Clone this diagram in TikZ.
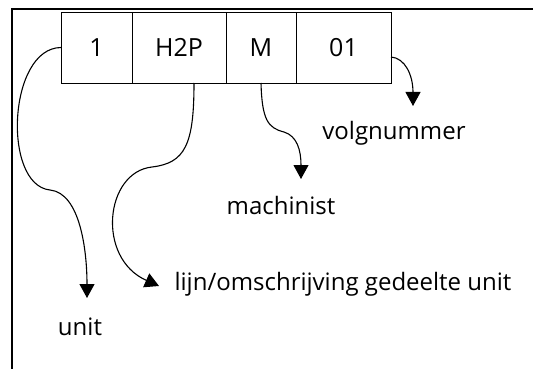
\documentclass[tikz,border=0pt]{standalone}
\usepackage{fontspec}
\setmainfont{Open Sans}
\usetikzlibrary{positioning,arrows.meta}
\begin{document}
\begin{tikzpicture}[
      x=1pt, y=-1pt,
      veld/.style={
        draw,
        line width=0.8pt,
        inner sep=0pt,
        outer sep=0pt,
        minimum height=71pt,
        font=\fontsize{25}{30}\selectfont
      },
      uitleg/.style={
        inner sep=0pt,
        font=\fontsize{24}{30}\selectfont
      },
      pijl/.style={-{Triangle[length=14pt,width=15pt]}, line width=1.1pt}
    ]
    \useasboundingbox (0,0) rectangle (533,369);
    % frame
    \draw[line width=1.2pt] (533,9) -- (12,9) -- (12,369);
    % code fields
    \node[veld, minimum width=71pt] (unit) at (96.5,47.5) {1};
    \node[veld, minimum width=94pt, right=0pt of unit] (lijn) {H2P};
    \node[veld, minimum width=70pt, right=0pt of lijn] (mach) {M};
    \node[veld, minimum width=95pt, right=0pt of mach] (volg) {01};
    % labels
    \node[uitleg] (tvolg) at (394,133) {volgnummer};
    \node[uitleg] (tmach) at (281,205) {machinist};
    \node[uitleg] (tlijn) at (343,284) {lijn/omschrijving gedeelte unit};
    \node[uitleg] (tunit) at (80,327) {unit};
    \coordinate (pvolg) at (413,106);
    \coordinate (pmach) at (301,179);
    \coordinate (plijn) at (159,286);
    \coordinate (punit) at (87,298);
    % arrows
    \draw[pijl] (unit.west) .. controls (8,48) and (2,185) .. (50,190)
      .. controls (80,193) and (87,250) .. (punit);
    \draw[pijl] ([xshift=15pt]lijn.south) .. controls (194,145) and (185,163) .. (152,167)
      .. controls (105,172) and (96,258) .. (plijn);
    \draw[pijl] (mach.south) .. controls (262,120) and (268,128) .. (284,132)
      .. controls (297,136) and (301,150) .. (pmach);
    \draw[pijl] (volg.east |- 0,57) .. controls (405,58) and (413,75) .. (pvolg);
  \end{tikzpicture}
\end{document}
